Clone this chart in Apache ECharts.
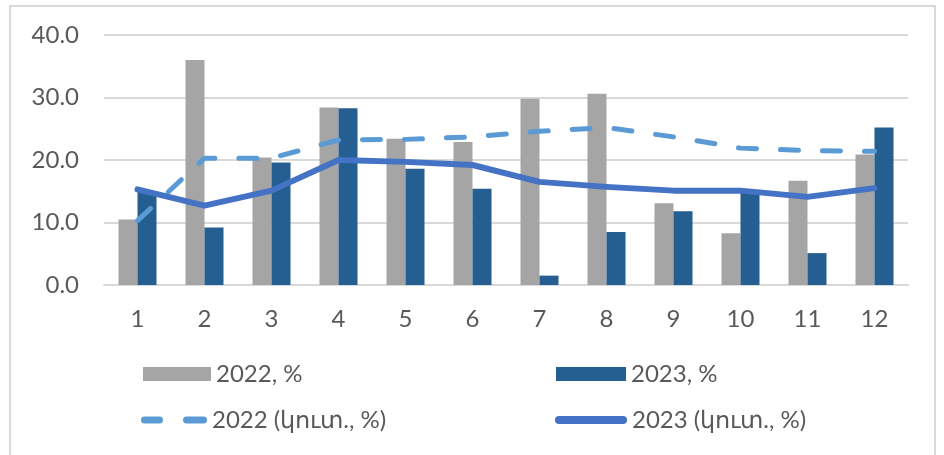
<!DOCTYPE html>
<html><head><meta charset="utf-8">
<script src="https://cdn.jsdelivr.net/npm/echarts@6/dist/echarts.min.js"></script>
<style>html,body{margin:0;padding:0;background:#fff}#c{width:944px;height:455px}</style>
</head><body><div id="c"></div>
<script>
const categories = ['1','2','3','4','5','6','7','8','9','10','11','12'];
const bars2022 = [10.5, 36.0, 20.4, 28.4, 23.4, 22.9, 29.8, 30.6, 13.1, 8.3, 16.7, 20.9];
const bars2023 = [14.9, 9.2, 19.6, 28.3, 18.6, 15.4, 1.5, 8.5, 11.8, 14.8, 5.1, 25.2];
const cum2022 = [10.3, 20.3, 20.3, 23.2, 23.3, 23.7, 24.6, 25.2, 23.7, 21.9, 21.5, 21.4];
const cum2023 = [15.3, 12.7, 15.1, 20.0, 19.7, 19.2, 16.5, 15.7, 15.1, 15.1, 14.1, 15.5];
const names = ['2022, %', '2023, %', '2022 (կուտ., %)', '2023 (կուտ., %)'];

const FONT = 'Lato';
const TXT = '#595959';
const chart = echarts.init(document.getElementById('c'), null, {renderer: 'canvas'});
const dashIcon = 'path://M3.5,0 H18.5 A3.5,3.5 0 0 1 18.5,7 H3.5 A3.5,3.5 0 0 1 3.5,0 Z M45.5,0 H62.5 A3.5,3.5 0 0 1 62.5,7 H45.5 A3.5,3.5 0 0 1 45.5,0 Z';
const solidIcon = 'path://M4,0 H68 A4,4 0 0 1 68,8 H4 A4,4 0 0 1 4,0 Z';
const legendText = {fontFamily: FONT, fontSize: 24, color: TXT, padding: [0, 0, 0, 0]};
function lg(name, left, top, icon, w, h) {
  return {data: [{name: name, icon: icon}], left: left, top: top, itemWidth: w, itemHeight: h,
    itemGap: 0, padding: 0, textStyle: legendText, selectedMode: false};
}
chart.setOption({
  backgroundColor: '#ffffff',
  animation: false,
  graphic: [{
    type: 'rect', shape: {x: 10, y: 6, width: 925, height: 460},
    style: {fill: 'none', stroke: '#d9d9d9', lineWidth: 2}, silent: true
  }],
  grid: {left: 104, right: 36, top: 35, bottom: 170},
  legend: [
    lg(names[0], 143, 362, 'rect', 68, 14),
    lg(names[1], 556, 362, 'rect', 70, 14),
    lg(names[2], 141, 408, dashIcon, 66, 7),
    lg(names[3], 555, 408, solidIcon, 72, 8)
  ],
  xAxis: {
    type: 'category', data: categories,
    axisLine: {lineStyle: {color: '#d9d9d9', width: 2}},
    axisTick: {show: false},
    axisLabel: {fontFamily: FONT, fontSize: 24, color: TXT, margin: 22}
  },
  yAxis: {
    type: 'value', min: 0, max: 40, interval: 10,
    axisLine: {show: false}, axisTick: {show: false},
    splitLine: {lineStyle: {color: '#d9d9d9', width: 2}},
    axisLabel: {fontFamily: FONT, fontSize: 24, color: TXT, margin: 25,
      formatter: v => v.toFixed(1)}
  },
  series: [
    {name: names[0], type: 'bar', data: bars2022, barWidth: 19, barGap: '0%',
     itemStyle: {color: '#a5a5a5'}},
    {name: names[1], type: 'bar', data: bars2023, barWidth: 19,
     itemStyle: {color: '#255e91'}},
    {name: names[2], type: 'line', data: cum2022, symbol: 'none',
     lineStyle: {color: '#5b9bd5', width: 5, type: [18, 24], cap: 'round'},
     itemStyle: {color: '#5b9bd5'}},
    {name: names[3], type: 'line', data: cum2023, symbol: 'none',
     lineStyle: {color: '#4472c4', width: 6, cap: 'round', join: 'round'},
     itemStyle: {color: '#4472c4'}}
  ]
});
</script></body></html>
